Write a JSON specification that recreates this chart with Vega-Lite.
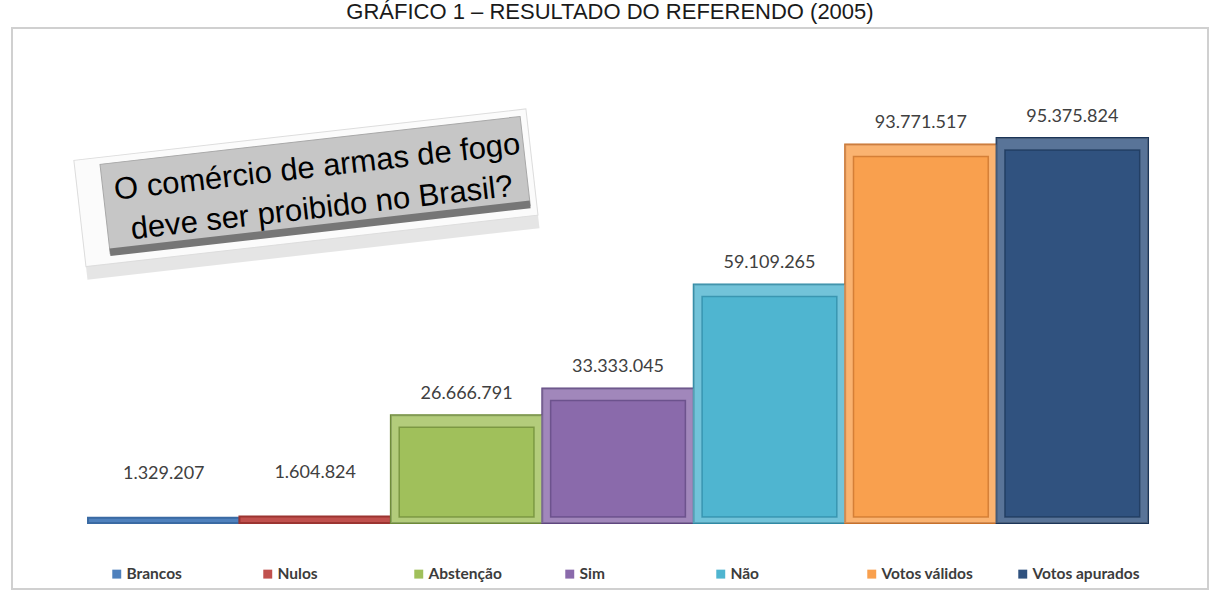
{
  "$schema": "https://vega.github.io/schema/vega-lite/v6.json",
  "width": 1196,
  "height": 561,
  "autosize": {"type": "none"},
  "padding": {"left": 12, "top": 28, "right": 6, "bottom": 6},
  "background": "white",
  "title": {
    "text": "GRÁFICO 1 – RESULTADO DO REFERENDO (2005)",
    "font": "Liberation Sans",
    "fontSize": 22,
    "fontWeight": "normal",
    "color": "#1a1a1a",
    "anchor": "middle",
    "baseline": "alphabetic",
    "offset": -13
  },
  "config": {
    "view": {"stroke": "#d0d0d0", "strokeWidth": 2},
    "locale": {"number": {"decimal": ",", "thousands": ".", "grouping": [3], "currency": ["R$", ""]}}
  },
  "datasets": {
    "votos": [
      {"categoria": "Brancos", "valor": 1329207},
      {"categoria": "Nulos", "valor": 1604824},
      {"categoria": "Abstenção", "valor": 26666791},
      {"categoria": "Sim", "valor": 33333045},
      {"categoria": "Não", "valor": 59109265},
      {"categoria": "Votos válidos", "valor": 93771517},
      {"categoria": "Votos apurados", "valor": 95375824}
    ],
    "caixa": [
      {"categoria": "Nulos", "valor": 83700000, "texto": ["O comércio de armas de fogo", "deve ser proibido no Brasil?"]}
    ]
  },
  "encoding": {
    "x": {
      "field": "categoria",
      "type": "nominal",
      "sort": null,
      "axis": null,
      "scale": {
        "domain": ["Brancos", "Nulos", "Abstenção", "Sim", "Não", "Votos válidos", "Votos apurados"],
        "paddingInner": 0,
        "paddingOuter": 0.449,
        "align": 0.559
      }
    },
    "y": {
      "field": "valor",
      "type": "quantitative",
      "axis": null,
      "scale": {"domain": [-16350000, 122620000], "nice": false, "zero": false}
    }
  },
  "layer": [
    {
      "data": {"name": "votos"},
      "mark": {"type": "bar", "strokeWidth": 2},
      "encoding": {
        "fill": {
          "field": "categoria",
          "type": "nominal",
          "sort": null,
          "scale": {
            "domain": ["Brancos", "Nulos", "Abstenção", "Sim", "Não", "Votos válidos", "Votos apurados"],
            "range": ["#4f81bd", "#c0504d", "#a0c05b", "#8a6aab", "#4fb5d0", "#f9a04e", "#30527f"]
          },
          "legend": {
            "title": null,
            "orient": "none",
            "legendX": 97,
            "legendY": 538,
            "direction": "horizontal",
            "columns": 7,
            "gridAlign": "all",
            "columnPadding": 26,
            "padding": 0,
            "symbolType": "square",
            "symbolSize": 80,
            "symbolStrokeWidth": 0,
            "labelFont": "Lato",
            "labelFontSize": 15.5,
            "labelFontWeight": "bold",
            "labelColor": "#3c3c3c",
            "labelOffset": 2,
            "labelLimit": 200
          }
        },
        "stroke": {
          "field": "categoria",
          "type": "nominal",
          "sort": null,
          "scale": {
            "domain": ["Brancos", "Nulos", "Abstenção", "Sim", "Não", "Votos válidos", "Votos apurados"],
            "range": ["#3a6aa3", "#9b3431", "#6d8a37", "#5f4680", "#2e8aa5", "#c8712a", "#1b3558"]
          },
          "legend": null
        }
      }
    },
    {
      "data": {"name": "votos"},
      "transform": [{"filter": "datum.valor > 10000000"}],
      "mark": {"type": "bar", "fill": "#ffffff", "fillOpacity": 0.2, "strokeWidth": 0},
      "encoding": {}
    },
    {
      "data": {"name": "votos"},
      "transform": [{"filter": "datum.valor > 10000000"}],
      "mark": {"type": "bar", "width": {"band": 0.89}, "yOffset": 12, "y2Offset": -6, "strokeWidth": 1.5, "strokeOpacity": 0.75},
      "encoding": {
        "y2": {"datum": 0},
        "fill": {"field": "categoria", "type": "nominal", "sort": null},
        "stroke": {"field": "categoria", "type": "nominal", "sort": null}
      }
    },
    {
      "data": {"name": "votos"},
      "transform": [{"filter": "datum.valor > 10000000"}],
      "mark": {"type": "text", "font": "Lato", "fontSize": 18, "color": "#404040", "baseline": "middle", "dy": -21},
      "encoding": {"text": {"field": "valor", "type": "quantitative", "format": ",d"}}
    },
    {
      "data": {"name": "votos"},
      "transform": [{"filter": "datum.valor <= 10000000"}],
      "mark": {"type": "text", "font": "Lato", "fontSize": 18, "color": "#404040", "baseline": "middle", "dy": -44},
      "encoding": {"text": {"field": "valor", "type": "quantitative", "format": ",d"}}
    },
    {
      "data": {"name": "caixa"},
      "mark": {"type": "point", "clip": true, "filled": true, "shape": "M -1.077 -0.18 L 0.991 -0.18 L 0.991 0.31 L -1.077 0.31 Z", "size": 193600, "angle": -6.5, "fill": "#000000", "opacity": 0.1, "strokeWidth": 0},
      "encoding": {}
    },
    {
      "data": {"name": "caixa"},
      "mark": {"type": "point", "clip": true, "filled": true, "shape": "M -1.077 -0.236 L 0.991 -0.236 L 0.991 0.25 L -1.077 0.25 Z", "size": 193600, "angle": -6.5, "fill": "#fbfbfb", "stroke": "#dddddd", "strokeWidth": 1, "opacity": 1},
      "encoding": {}
    },
    {
      "data": {"name": "caixa"},
      "mark": {"type": "point", "clip": true, "filled": true, "shape": "M -0.961 -0.2045 L 0.961 -0.2045 L 0.961 0.2045 L -0.961 0.2045 Z", "size": 193600, "angle": -6.5, "fill": "#c6c6c6", "stroke": "#a8a8a8", "strokeWidth": 1, "opacity": 1},
      "encoding": {}
    },
    {
      "data": {"name": "caixa"},
      "mark": {"type": "point", "clip": true, "filled": true, "shape": "M -0.961 0.18 L 0.961 0.18 L 0.961 0.215 L -0.961 0.215 Z", "size": 193600, "angle": -6.5, "fill": "#767676", "strokeWidth": 0, "opacity": 1},
      "encoding": {}
    },
    {
      "data": {"name": "caixa"},
      "mark": {"type": "text", "clip": true, "font": "Liberation Sans", "fontSize": 31, "color": "#000000", "align": "center", "baseline": "middle", "angle": -6.5, "lineHeight": 41, "dx": 4, "dy": -17},
      "encoding": {"text": {"field": "texto"}}
    }
  ]
}
